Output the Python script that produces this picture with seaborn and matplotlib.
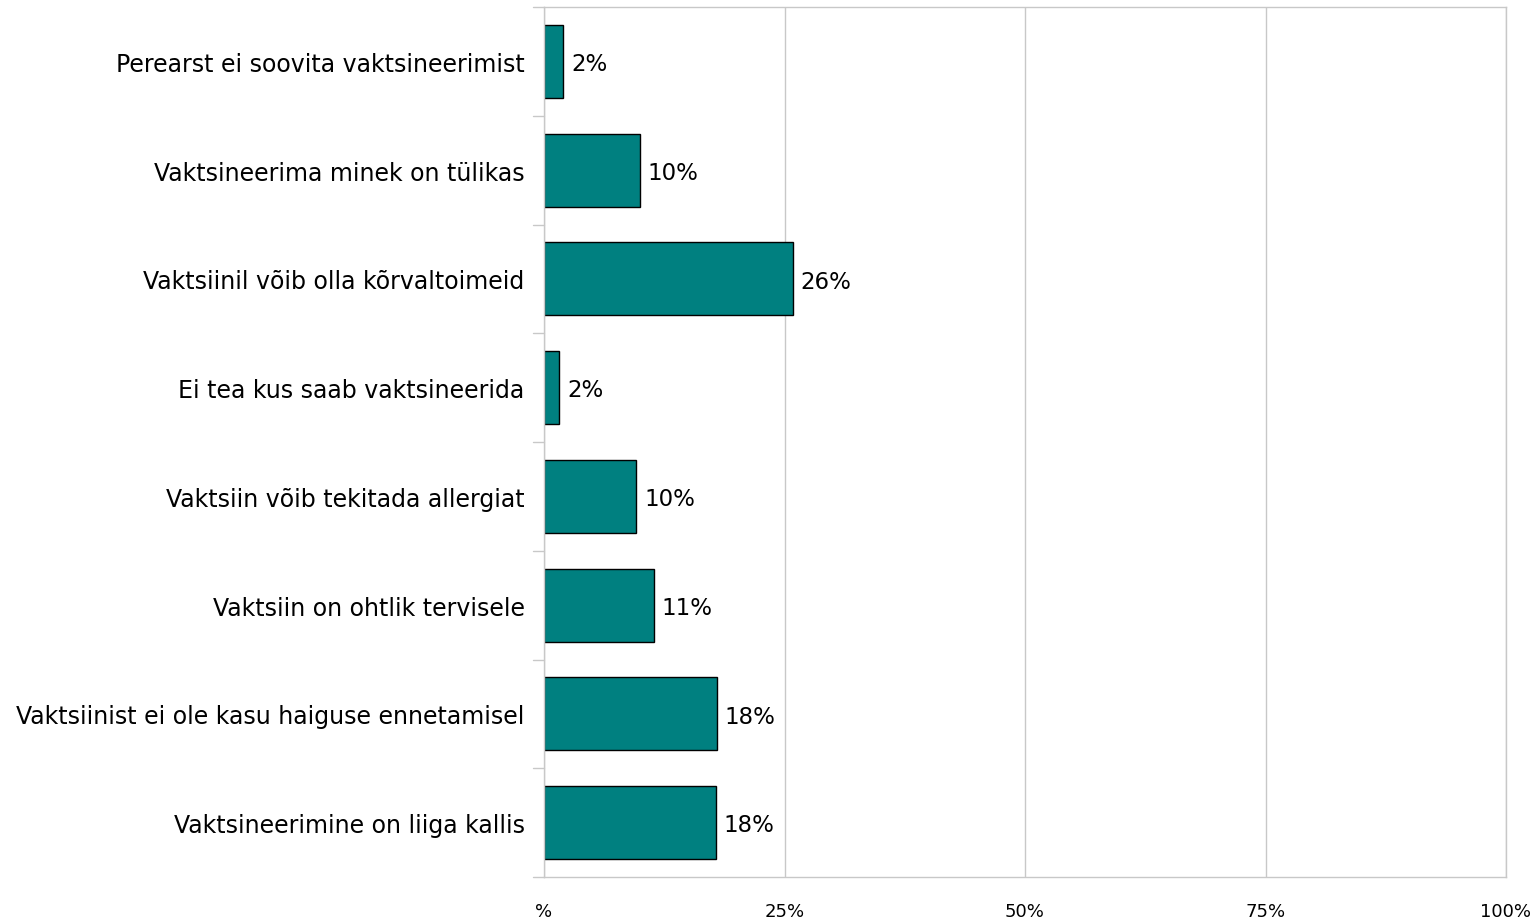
import matplotlib
matplotlib.use('Agg')
import matplotlib.pyplot as plt
import seaborn as sns
import pandas as pd

# andmed
categories = [
    'Perearst ei soovita vaktsineerimist',
    'Vaktsineerima minek on tülikas',
    'Vaktsiinil võib olla kõrvaltoimeid',
    'Ei tea kus saab vaktsineerida',
    'Vaktsiin võib tekitada allergiat',
    'Vaktsiin on ohtlik tervisele',
    'Vaktsiinist ei ole kasu haiguse ennetamisel',
    'Vaktsineerimine on liiga kallis',
]
values = [2.0, 10.0, 25.9, 1.6, 9.6, 11.4, 18.0, 17.9]
x_ticks = [0, 25, 50, 75, 100]
x_tick_labels = ['%', '25%', '50%', '75%', '100%']

df = pd.DataFrame({'Põhjus': categories, 'Osakaal': values})

sns.set_style('white')
plt.rcParams['font.family'] = ['DejaVu Sans']
plt.rcParams['text.color'] = 'black'
plt.rcParams['xtick.labelcolor'] = 'black'
plt.rcParams['ytick.labelcolor'] = 'black'

fig = plt.figure(figsize=(15.37, 9.2), dpi=100)
ax = fig.add_axes([544 / 1537, 1 - 878 / 920, (1506 - 544) / 1537, 870 / 920])

sns.barplot(data=df, x='Osakaal', y='Põhjus', orient='h', color='#008080',
            saturation=1, edgecolor='black', linewidth=1, width=0.67, ax=ax)

ax.set_xlim(0, 100)
ax.set_ylim(len(categories) - 0.5, -0.5)
ax.set_xticks(x_ticks)
ax.set_xticklabels(x_tick_labels, fontsize=13)
ax.set_xlabel('')
ax.set_ylabel('')
ax.tick_params(axis='y', labelsize=17, length=0, pad=14, labelcolor='black')
ax.tick_params(axis='x', length=10, color='#BFBFBF', pad=8, labelcolor='black')

# vertikaalsed abijooned
ax.set_axisbelow(True)
ax.grid(axis='x', color='#C8C8C8', linewidth=1)
for s in ax.spines.values():
    s.set_color('#C8C8C8')
    s.set_linewidth(1)
    s.set_visible(True)

# kategooriate vahelised kriipsud vasakul
for i in range(len(categories) + 1):
    ax.plot([-1.1, 0], [i - 0.5, i - 0.5], color='#C8C8C8', lw=1,
            clip_on=False)

for i, v in enumerate(values):
    ax.text(v + 0.8, i + 0.02, f'{round(v)}%', va='center', ha='left',
            fontsize=16.5, color='black')

fig.savefig('out.png', dpi=100)
